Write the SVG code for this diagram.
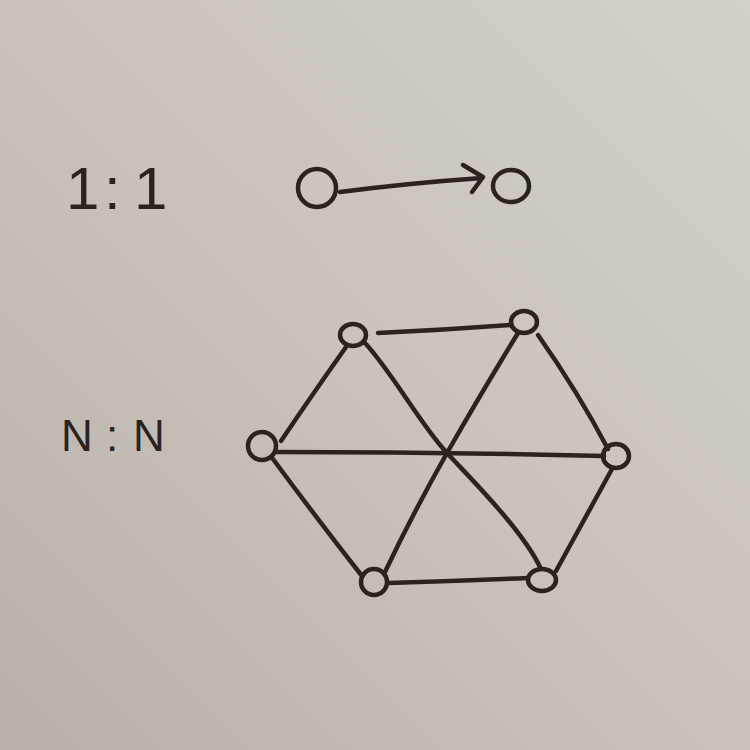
<svg xmlns="http://www.w3.org/2000/svg" width="750" height="750" viewBox="0 0 750 750">
  <defs>
    <linearGradient id="paper" x1="1" y1="0" x2="0" y2="1">
      <stop offset="0" stop-color="#d4cfc9"/>
      <stop offset="0.5" stop-color="#c9c3bc"/>
      <stop offset="1" stop-color="#b9b1a9"/>
    </linearGradient>
    <style>
      .ink { fill: none; stroke: #2a2320; stroke-width: 4.5; stroke-linecap: round; stroke-linejoin: round; }
      .node { fill: none; stroke: #2a2320; stroke-width: 4.5; }
      .lbl { font-family: "Liberation Sans", Arial, sans-serif; fill: #2a2320; }
    </style>
  </defs>
  <rect width="750" height="750" fill="url(#paper)"/>

  <g id="label-1to1">
    <text class="lbl" x="66 104 134" y="209" font-size="60">1:1</text>
  </g>
  <g id="label-NtoN">
    <text class="lbl" x="61 106 133" y="451" font-size="44">N:N</text>
  </g>

  <g id="one-a"><ellipse class="node" cx="317" cy="188" rx="19" ry="19"/></g>
  <g id="one-b"><ellipse class="node" cx="511" cy="186" rx="18" ry="16"/></g>

  <g id="hex-tl"><ellipse class="node" cx="353" cy="335" rx="13" ry="11"/></g>
  <g id="hex-tr"><ellipse class="node" cx="524" cy="322" rx="13" ry="11"/></g>
  <g id="hex-l"><ellipse class="node" cx="262" cy="446" rx="14" ry="14"/></g>
  <g id="hex-r"><ellipse class="node" cx="616" cy="456" rx="13" ry="12"/></g>
  <g id="hex-bl"><ellipse class="node" cx="374" cy="582" rx="13" ry="13"/></g>
  <g id="hex-br"><ellipse class="node" cx="542" cy="580" rx="14" ry="11"/></g>

  <g id="connectors">
    <path class="ink" d="M340,192 Q410,183 482,178"/>
    <path class="ink" d="M463,165 L483,177 L472,192"/>

    <path class="ink" d="M378,333 Q445,330 511,325"/>
    <path class="ink" d="M346,347 Q312,395 281,441"/>
    <path class="ink" d="M365,343 C392,372 420,424 447,453 S522,530 540,567"/>
    <path class="ink" d="M518,333 Q480,395 447,453 Q412,515 385,572"/>
    <path class="ink" d="M538,335 Q578,392 608,449"/>
    <path class="ink" d="M275,452 Q440,452 604,456"/>
    <path class="ink" d="M273,459 Q318,520 362,576"/>
    <path class="ink" d="M612,469 Q584,520 556,571"/>
    <path class="ink" d="M388,583 Q458,581 528,578"/>
  </g>
</svg>
